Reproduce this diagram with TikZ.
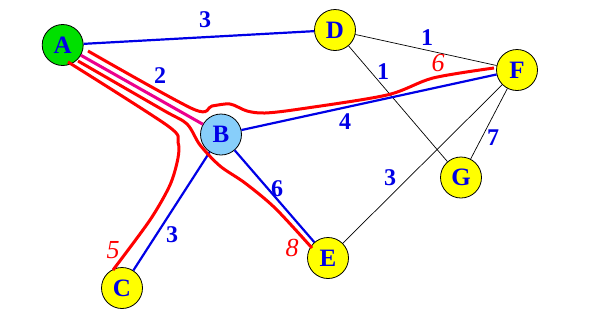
\documentclass[tikz,border=0pt]{standalone}
\usepackage{fontspec}
\setmainfont{Liberation Serif}
\definecolor{nodegreen}{RGB}{0,224,0}
\definecolor{nodeblue}{RGB}{135,206,250}
\definecolor{nodeyellow}{RGB}{255,255,0}
\definecolor{lblue}{RGB}{0,0,230}
\begin{document}
\begin{tikzpicture}[x=1pt,y=-1pt,
  vertex/.style={circle,draw=black,line width=0.8pt,minimum size=41pt,inner sep=0pt,
    font=\fontsize{25}{25}\selectfont\bfseries,text=lblue},
  blueedge/.style={lblue,line width=2.2pt},
  thinedge/.style={black,line width=0.7pt},
  magentaedge/.style={magenta,line width=3pt},
  redpath/.style={red,line width=3pt},
  wlab/.style={text=lblue,font=\fontsize{24}{24}\selectfont\bfseries,inner sep=0pt},
  rlab/.style={text=red,font=\fontsize{26}{26}\selectfont\itshape,inner sep=0pt}]
\useasboundingbox (0,0) rectangle (603,325);
% nodes
\node[vertex,fill=nodegreen] (A) at (62.7,45) {A};
\node[vertex,fill=nodeyellow] (D) at (335,30) {D};
\node[vertex,fill=nodeyellow] (F) at (517,70) {F};
\node[vertex,fill=nodeblue] (B) at (221,134.5) {B};
\node[vertex,fill=nodeyellow] (G) at (461,177.5) {G};
\node[vertex,fill=nodeyellow] (E) at (328,258) {E};
\node[vertex,fill=nodeyellow] (C) at (122,288) {C};
% thin black edges
\draw[thinedge] (D) -- (F);
\draw[thinedge] (D) -- (G);
\draw[thinedge] (E) -- (F);
\draw[thinedge] (F) -- (G);
% blue edges
\draw[blueedge] (A) -- (D);
\draw[blueedge] (B) -- (F);
\draw[blueedge] (B) -- (C);
\draw[blueedge] (B) -- (E);
\draw[magentaedge] (A) -- (B);
% red paths
\coordinate (rf0) at (88,51);
\coordinate (rf1) at (494,68);
\coordinate (rc0) at (68,62);
\coordinate (rc1) at (113,270);
\coordinate (re0) at (78,61);
\coordinate (re1) at (312,248);
\draw[redpath] plot[smooth,tension=0.5] coordinates {(rf0) (193,109) (212,106) (230,104) (247,111) (265,113) (300,109) (387,95) (433,78) (rf1)};
\draw[redpath] plot[smooth,tension=0.5] coordinates {(rc0) (168,126) (178,142) (178,158) (170,185) (150,220) (rc1)};
\draw[redpath] plot[smooth,tension=0.5] coordinates {(re0) (163,110) (187,124) (200,145) (220,166) (245,183) (275,208) (re1)};
% labels
\node[wlab] (l1) at (205,20) {3};
\node[wlab] (l2) at (160,76) {2};
\node[wlab] (l3) at (345,122) {4};
\node[wlab] (l4) at (427,38) {1};
\node[wlab] (l5) at (383,72) {1};
\node[wlab] (l6) at (493,138) {7};
\node[wlab] (l7) at (390,178) {3};
\node[wlab] (l8) at (277,189) {6};
\node[wlab] (l9) at (172,235) {3};
\node[rlab] (r1) at (438,63) {6};
\node[rlab] (r2) at (113,250) {5};
\node[rlab] (r3) at (292,248) {8};
\end{tikzpicture}
\end{document}
